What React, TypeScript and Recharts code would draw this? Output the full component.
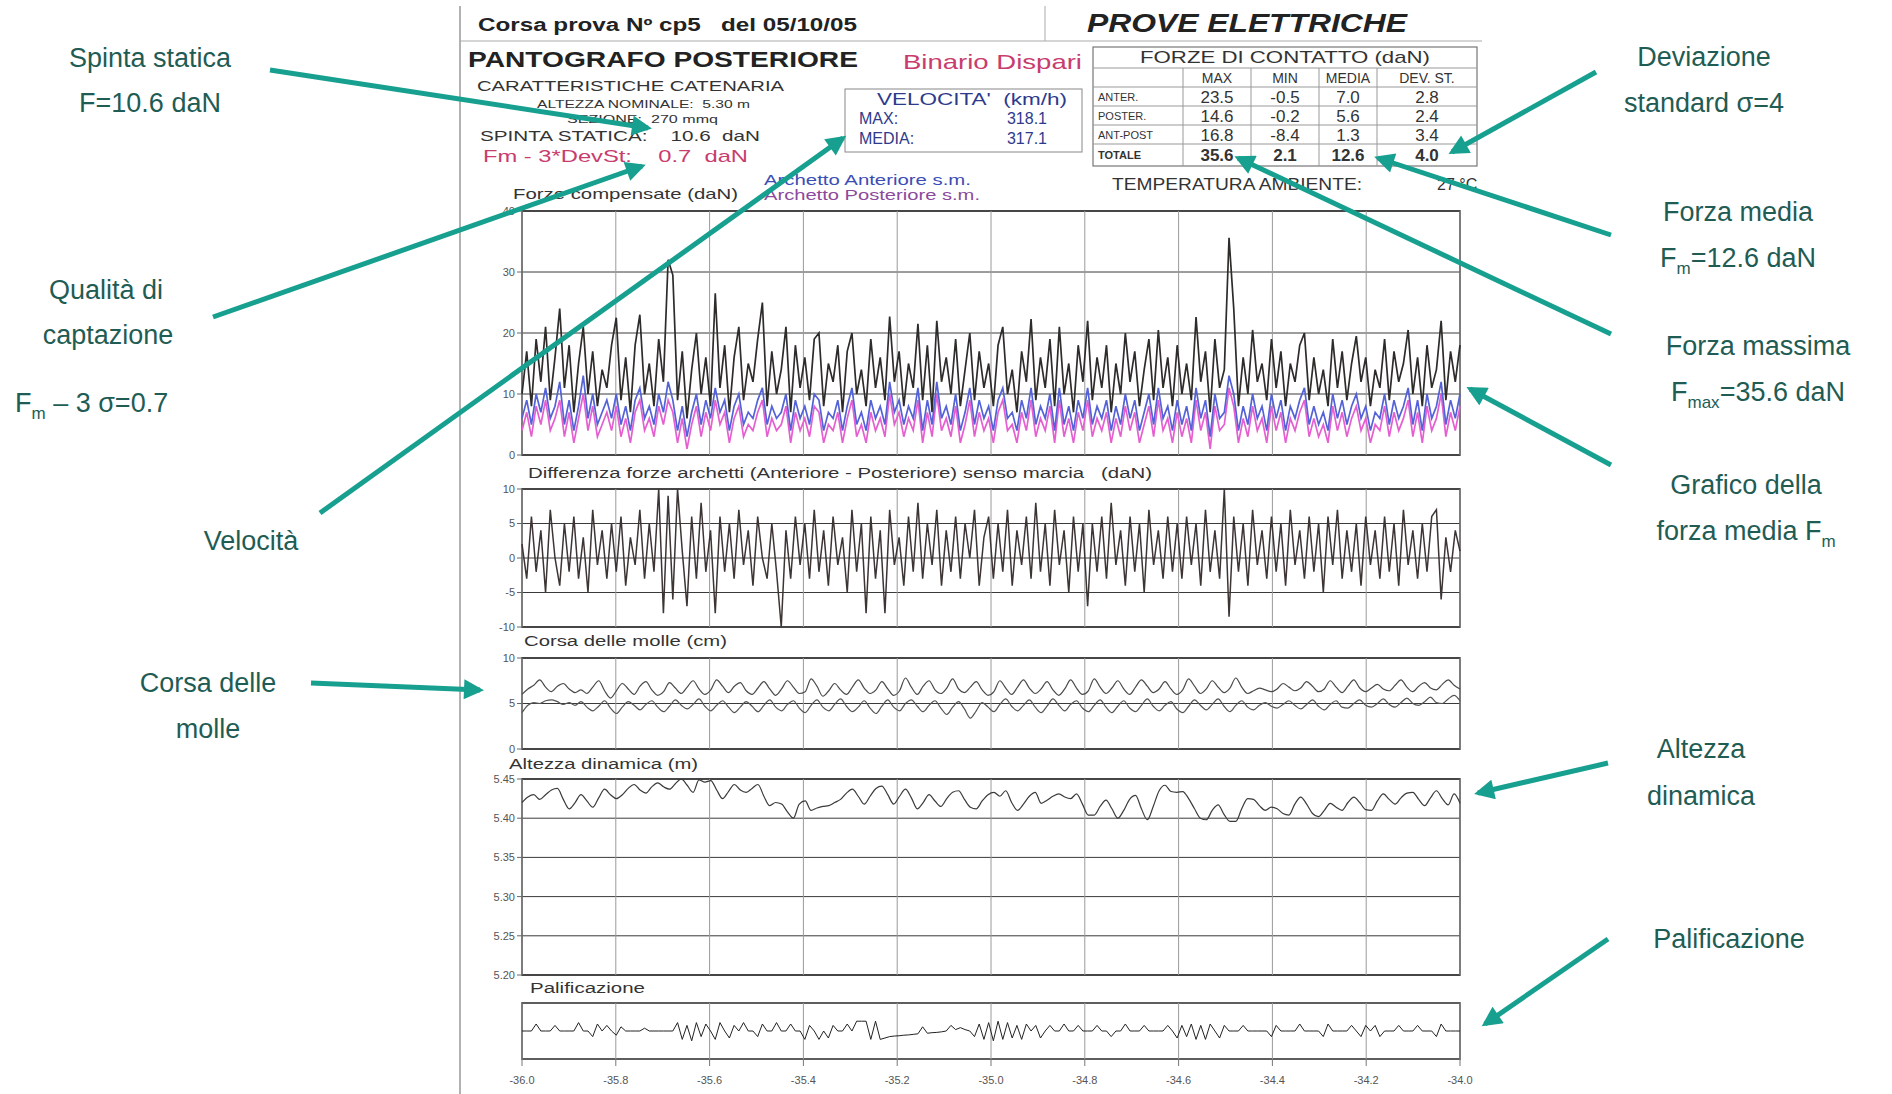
import React from "react";
import { LineChart, Line, XAxis, YAxis, CartesianGrid, ReferenceArea, ReferenceLine } from "recharts";

// progressive (km) range of the run
const X_START = -36;
const X_END = -34;
const xTicks = [-36, -35.8, -35.6, -35.4, -35.2, -35, -34.8, -34.6, -34.4, -34.2, -34];

// Forze compensate (daN) - totale, archetto anteriore, archetto posteriore
const totale = [
  10, 17, 8, 19, 12, 21, 9, 16, 24, 11, 18, 7, 15, 21, 10, 17, 8, 14, 11, 18,
  22.5, 9, 16, 7, 18, 23, 10, 15, 8, 19, 12, 32, 29.5, 9, 17, 6, 14, 20, 10, 16,
  8, 26.5, 11, 18, 7, 16, 21, 9, 15, 12, 19, 25, 8, 17, 10, 14, 21, 7, 18, 11,
  16, 9, 19, 20, 8, 15, 12, 18, 7, 17, 20, 10, 14, 8, 19, 11, 16, 9, 22.7, 12,
  17, 8, 15, 11, 21.5, 9, 18, 7, 22, 12, 16, 10, 19, 8, 14, 20, 9, 17, 11, 15,
  8, 18, 21, 10, 14, 7, 17, 12, 22.3, 9, 16, 11, 19, 8, 21, 10, 15, 7, 18, 12,
  22, 9, 16, 11, 18, 7, 15, 10, 20, 12, 17, 8, 14, 19, 9, 20.5, 11, 16, 8, 18,
  10, 15, 9, 22.6, 12, 17, 7, 19, 11, 14, 35.6, 24, 8, 16, 10, 20.5, 12, 15, 9, 19,
  11, 17, 8, 15, 12, 18, 20, 9, 16, 10, 14, 8, 19, 11, 17, 9, 15, 19.5, 12, 16,
  8, 14, 11, 19, 9, 17, 12, 15, 20.5, 10, 16, 8, 18, 11, 14, 22, 9, 17, 12, 18,
];
const anteriore = [
  6, 9, 5, 10, 7, 11, 6, 8, 12, 5, 9, 4, 8, 13, 6, 10, 5, 7, 9, 6,
  10, 5, 8, 4, 9, 11, 6, 8, 5, 10, 7, 12, 9, 4, 8, 3, 7, 10, 5, 9,
  6, 11, 7, 9, 4, 8, 10, 5, 7, 6, 9, 11, 5, 8, 6, 7, 10, 4, 9, 6,
  8, 5, 10, 9, 4, 7, 6, 9, 4, 8, 11, 5, 7, 4, 9, 6, 8, 5, 12, 7,
  9, 5, 8, 6, 11, 4, 9, 5, 12, 6, 8, 5, 10, 4, 7, 11, 5, 9, 6, 8,
  4, 9, 11, 6, 7, 4, 9, 6, 11, 5, 8, 6, 10, 4, 11, 5, 8, 4, 9, 6,
  11, 5, 8, 6, 9, 4, 8, 5, 10, 6, 9, 4, 7, 10, 5, 11, 6, 8, 4, 9,
  5, 8, 4, 11, 6, 9, 3, 10, 6, 7, 13, 10, 4, 8, 5, 10, 6, 8, 4, 10,
  6, 9, 4, 8, 6, 9, 11, 5, 8, 5, 7, 4, 10, 6, 9, 5, 8, 10, 6, 8,
  4, 7, 6, 10, 5, 9, 6, 8, 11, 5, 9, 4, 10, 6, 8, 12, 5, 9, 6, 10,
];
const posteriore = [
  4, 7, 3, 8, 5, 9, 4, 6, 9, 3, 7, 2, 6, 10, 4, 8, 3, 5, 7, 4,
  8, 3, 6, 2, 7, 9, 4, 6, 3, 8, 5, 9, 7, 2, 6, 1, 5, 8, 3, 7,
  4, 9, 5, 7, 2, 6, 8, 3, 5, 4, 7, 9, 3, 6, 4, 5, 8, 2, 7, 4,
  6, 3, 8, 7, 2, 5, 4, 7, 2, 6, 9, 3, 5, 2, 7, 4, 6, 3, 10, 5,
  7, 3, 6, 4, 9, 2, 7, 3, 10, 4, 6, 3, 8, 2, 5, 9, 3, 7, 4, 6,
  2, 7, 9, 4, 5, 2, 7, 4, 9, 3, 6, 4, 8, 2, 9, 3, 6, 2, 7, 4,
  9, 3, 6, 4, 7, 2, 6, 3, 8, 4, 7, 2, 5, 8, 3, 9, 4, 6, 2, 7,
  3, 6, 2, 9, 4, 7, 1, 8, 4, 5, 11, 8, 2, 6, 3, 8, 4, 6, 2, 8,
  4, 7, 2, 6, 4, 7, 9, 3, 6, 3, 5, 2, 8, 4, 7, 3, 6, 8, 4, 6,
  2, 5, 4, 8, 3, 7, 4, 6, 9, 3, 7, 2, 8, 4, 6, 10, 3, 7, 4, 8,
];

// Differenza forze archetti (Anteriore - Posteriore) (daN)
const differenza = [
  2, -3, 6, -2, 4, -5, 7, 0, -4, 5, -2, 6, -3, 3, -5, 7, -1, 4, -3, 5,
  -2, 6, -4, 3, -1, 7, -3, 5, -2, 10, -8, 9, -6, 10, 1, -7, 6, -3, 8, -2,
  4, -8, 6, -2, 5, -3, 7, -1, 4, -4, 6, 0, -3, 5, -2, -10, 4, -3, 6, -1,
  5, -3, 7, -2, 4, -4, 6, -1, 3, -5, 7, -2, 5, -8, 6, -3, 4, -8, 7, -1,
  3, -4, 6, -2, 8, -3, 5, -1, 7, -4, 4, -2, 6, -3, 5, 0, 7, -4, 3, 6,
  -3, 5, -2, 7, -4, 4, -1, 6, -3, 8, -2, 5, -4, 7, -1, 4, -5, 6, -2, 5,
  -7, 5, -2, 6, -3, 8, -1, 4, -4, 6, -2, 5, -5, 7, -1, 4, -3, 6, -2, 5,
  -3, 6, -1, 5, -4, 7, -2, 4, -3, 10, -8.5, 6, -2, 5, -4, 7, -1, 4, -3, 6,
  -2, 5, -4, 7, -1, 4, -3, 6, -2, 5, -5, 6, -1, 7, -3, 4, -2, 5, -4, 6,
  -1, 4, -3, 6, -2, 5, -4, 7, -1, 4, -3, 5, -2, 6, 7, -6, 3, -2, 4, 1,
];

// Corsa delle molle (cm)
const molleSup = [
  6.0, 6.6, 7.0, 7.6, 6.8, 6.3, 6.9, 7.2, 6.6, 6.2, 6.5, 6.1, 6.8, 7.5, 6.4, 5.6,
  6.4, 7.2, 6.6, 6.0, 6.9, 7.4, 6.5, 5.9, 6.3, 7.3, 6.7, 6.1, 6.8, 7.5, 6.6, 6.0,
  6.5, 7.6, 6.9, 6.2, 6.9, 7.3, 6.4, 6.0, 6.7, 7.4, 6.6, 5.9, 6.6, 7.5, 6.8, 6.1,
  6.3, 7.7, 6.9, 5.8, 6.4, 7.2, 6.5, 6.0, 6.8, 7.6, 6.7, 6.1, 6.5, 7.4, 6.6, 5.9,
  6.4, 7.8, 6.8, 6.0, 6.9, 7.5, 6.5, 6.1, 6.7, 7.7, 6.6, 6.2, 6.8, 7.4, 6.5, 5.9,
  6.3, 7.5, 6.7, 6.0, 6.8, 7.6, 6.7, 6.1, 6.6, 7.4, 6.5, 5.9, 6.6, 7.6, 6.7, 6.0,
  6.4, 7.7, 6.8, 6.1, 6.7, 7.5, 6.6, 6.0, 6.8, 7.6, 6.9, 6.2, 6.6, 7.4, 6.6, 6.0,
  6.5, 7.7, 6.9, 6.1, 6.6, 7.5, 6.8, 6.2, 6.7, 7.8, 6.8, 6.1, 6.4, 6.7, 6.5, 6.3,
  6.6, 7.2, 6.8, 6.4, 6.7, 7.4, 6.9, 6.3, 6.6, 7.5, 6.8, 6.2, 6.9, 7.6, 6.7, 6.3,
  6.7, 7.1, 6.6, 6.4, 7.0, 7.6, 6.8, 6.3, 6.9, 7.3, 6.7, 6.5, 7.1, 7.6, 7.0, 6.6,
];
const molleInf = [
  4.0, 4.8, 5.1, 5.0, 5.3, 5.4, 5.2, 4.9, 5.1, 4.8, 5.2, 4.6, 4.2, 4.7, 5.3, 4.5,
  3.9, 4.6, 5.2, 4.8, 4.3, 4.9, 5.3, 4.6, 4.1, 4.7, 5.4, 4.8, 4.4, 4.9, 5.5, 4.7,
  4.2, 4.8, 5.3, 4.6, 4.0, 4.6, 5.2, 4.7, 4.1, 4.8, 5.4, 4.6, 4.2, 4.9, 5.3, 4.5,
  4.0, 4.8, 5.4, 4.6, 4.2, 4.9, 5.5, 4.7, 4.1, 4.6, 5.3, 4.5, 3.9, 4.7, 5.4, 4.6,
  4.2, 5.0, 5.4, 4.7, 4.1, 4.8, 5.3, 4.5, 3.8, 4.6, 5.2, 4.4, 3.4, 4.2, 5.1, 4.6,
  4.1, 4.9, 5.5, 4.7, 4.2, 4.8, 5.4, 4.6, 4.0, 4.7, 5.5, 4.8, 4.2, 4.9, 5.3, 4.5,
  4.1, 4.8, 5.4, 4.6, 4.0, 4.7, 5.3, 4.5, 4.1, 4.8, 5.5, 4.7, 4.2, 4.8, 5.2, 4.4,
  4.0, 4.7, 5.4, 4.8, 4.3, 4.9, 5.5, 4.7, 4.1, 4.8, 5.3, 4.6, 4.3, 4.8, 5.1, 4.7,
  4.5, 4.9, 5.3, 4.8, 4.4, 4.9, 5.4, 4.7, 4.3, 4.9, 5.3, 4.6, 4.5, 5.0, 5.4, 4.8,
  4.6, 5.0, 5.5, 4.9, 4.6, 5.1, 5.6, 5.0, 4.8, 5.2, 5.7, 5.1, 5.0, 5.5, 5.9, 5.3,
];

// Altezza dinamica (m)
const altezza = [
  5.420, 5.427, 5.430, 5.424, 5.430, 5.436, 5.438, 5.424, 5.412, 5.420, 5.430, 5.422, 5.414, 5.426, 5.437, 5.430,
  5.425, 5.430, 5.438, 5.443, 5.436, 5.432, 5.440, 5.445, 5.440, 5.437, 5.444, 5.450, 5.442, 5.433, 5.449, 5.446,
  5.448, 5.436, 5.425, 5.434, 5.443, 5.436, 5.433, 5.438, 5.443, 5.428, 5.416, 5.420, 5.418, 5.408, 5.400, 5.418,
  5.422, 5.410, 5.413, 5.415, 5.416, 5.420, 5.424, 5.432, 5.437, 5.428, 5.418, 5.428, 5.438, 5.441, 5.430, 5.418,
  5.428, 5.437, 5.426, 5.412, 5.420, 5.430, 5.422, 5.415, 5.425, 5.433, 5.435, 5.424, 5.414, 5.412, 5.422, 5.430,
  5.433, 5.428, 5.435, 5.420, 5.410, 5.418, 5.428, 5.433, 5.419, 5.423, 5.428, 5.431, 5.427, 5.425, 5.431, 5.418,
  5.404, 5.404, 5.415, 5.423, 5.412, 5.400, 5.410, 5.424, 5.429, 5.412, 5.398, 5.415, 5.435, 5.442, 5.434, 5.433,
  5.434, 5.425, 5.412, 5.400, 5.398, 5.410, 5.417, 5.405, 5.396, 5.396, 5.412, 5.425, 5.424, 5.416, 5.410, 5.414,
  5.412, 5.406, 5.404, 5.418, 5.427, 5.418, 5.406, 5.402, 5.410, 5.419, 5.414, 5.410, 5.420, 5.427, 5.420, 5.411,
  5.410, 5.422, 5.431, 5.424, 5.418, 5.426, 5.432, 5.433, 5.424, 5.416, 5.426, 5.435, 5.425, 5.417, 5.431, 5.419,
];

// Palificazione (segnale dei pali)
const palificazione = [
  0, 0, 0, 0.25, 0, 0, 0, 0.2, 0, 0, 0, 0, 0.3, 0, 0, -0.2, 0.25, 0, 0.2, 0,
  -0.15, 0.15, 0, 0, 0, 0, 0.1, 0, 0, 0, 0, 0, 0, 0.3, -0.3, 0.2, -0.35, 0.3, -0.2, 0.25,
  0, -0.3, 0.3, 0, -0.25, 0.2, 0, 0.3, 0, 0, -0.2, 0.25, 0, 0, 0.3, 0, 0, 0.25, 0, 0,
  -0.3, 0.2, 0, -0.3, 0, -0.25, 0.2, 0, 0, 0.25, 0, 0.35, 0.35, 0.35, -0.3, 0.35, -0.3, -0.25, -0.2, -0.18,
  -0.17, -0.15, -0.14, -0.12, -0.1, 0.15, -0.08, -0.06, -0.05, -0.03, 0, 0.2, 0.05, 0.12, 0.05, 0, -0.2, 0.25, -0.3, 0.3,
  -0.35, 0.35, -0.3, 0.3, -0.25, 0.2, -0.3, 0.25, 0, 0.2, -0.25, 0, 0.2, 0, 0, 0.25, 0, 0, 0.2, 0,
  0, 0, 0.2, 0, 0, -0.2, 0, 0, 0.25, 0, 0, 0, 0.2, 0, 0, 0, 0, 0.2, 0, -0.25,
  0.2, -0.2, 0.25, -0.3, 0.2, -0.3, 0.25, 0, -0.25, 0.2, 0, 0, 0, 0.2, 0, 0, 0, 0, 0, -0.2,
  0.2, 0, 0, 0, 0, 0.25, 0, 0, 0, 0, -0.2, 0.25, 0, 0, 0, 0, 0.2, 0, -0.2, 0.2,
  0, 0.2, -0.2, 0, 0, 0, 0.2, 0, 0, 0, 0.2, 0, 0, 0, -0.2, 0.25, 0, 0, 0, 0,
];

// tabella forze di contatto
const tableCols = ["MAX", "MIN", "MEDIA", "DEV. ST."];
const tableRowLabels = ["ANTER.", "POSTER.", "ANT-POST", "TOTALE"];
const tableValues = [
  ["23.5", "-0.5", "7.0", "2.8"],
  ["14.6", "-0.2", "5.6", "2.4"],
  ["16.8", "-8.4", "1.3", "3.4"],
  ["35.6", "2.1", "12.6", "4.0"],
];

const xOf = (i: number, n: number) => X_START + (i * (X_END - X_START)) / (n - 1);

const forceData = totale.map((v, i) => ({
  x: xOf(i, totale.length),
  tot: v,
  ant: anteriore[i],
  post: posteriore[i],
}));
const diffData = differenza.map((v, i) => ({ x: xOf(i, differenza.length), d: v }));
const molleData = molleSup.map((v, i) => ({ x: xOf(i, molleSup.length), a: v, b: molleInf[i] }));
const altezzaData = altezza.map((v, i) => ({ x: xOf(i, altezza.length), h: v }));
const paliData = palificazione.map((v, i) => ({ x: xOf(i, palificazione.length), p: v }));

const FONT = "'Liberation Sans', Arial, sans-serif";
const PLOT_LEFT = 522;
const PLOT_W = 938;
const AXIS_W = 60;
const M = { top: 9, right: 24, bottom: 9, left: 0 };
const TEAL = "#17a08f";
const TEAL_TEXT = "#1f5c54";
const PINK = "#c83c6e";
const NAVY = "#2d3a8c";

interface SeriesDef {
  key: string;
  color: string;
  width?: number;
  smooth?: boolean;
}

interface PanelProps {
  top: number;
  height: number;
  data: any[];
  domain: [number, number];
  yTicks: number[];
  series: SeriesDef[];
  fmt?: (v: number) => string;
  showX?: boolean;
}

function Panel({ top, height, data, domain, yTicks, series, fmt, showX }: PanelProps) {
  const xH = showX ? 34 : 1;
  const h = M.top + height + M.bottom + xH;
  return (
    <div style={{ position: "absolute", left: PLOT_LEFT - AXIS_W, top: top - M.top }}>
      <LineChart width={AXIS_W + PLOT_W + M.right} height={h} data={data} margin={M}>
        {yTicks.length > 0 && <CartesianGrid horizontal vertical={false} stroke="#3a3a3a" strokeWidth={1} />}
        {xTicks.map((t) => (
          <ReferenceLine key={t} x={t} stroke="#9a9a9a" strokeWidth={1} />
        ))}
        <XAxis
          type="number"
          dataKey="x"
          domain={[X_START, X_END]}
          ticks={xTicks}
          interval={0}
          height={xH}
          tick={showX ? { fontSize: 11, fill: "#555", fontFamily: FONT } : false}
          tickFormatter={(v: number) => v.toFixed(1)}
          tickLine={showX ? { stroke: "#777" } : false}
          tickSize={7}
          tickMargin={10}
          axisLine={false}
        />
        <YAxis
          width={AXIS_W}
          domain={domain}
          ticks={yTicks}
          interval={0}
          allowDataOverflow
          axisLine={false}
          tickLine={yTicks.length > 0 ? { stroke: "#666" } : false}
          tickSize={5}
          tick={yTicks.length > 0 ? { fontSize: 11, fill: "#555", fontFamily: FONT } : false}
          tickFormatter={fmt}
        />
        {series.map((s) => (
          <Line
            key={s.key}
            type={s.smooth ? "monotone" : "linear"}
            dataKey={s.key}
            stroke={s.color}
            strokeWidth={s.width ?? 1}
            dot={false}
            isAnimationActive={false}
          />
        ))}
        <ReferenceArea
          x1={X_START}
          x2={X_END}
          y1={domain[0]}
          y2={domain[1]}
          fill="none"
          stroke="#2a2a2a"
          strokeWidth={1.5}
          ifOverflow="visible"
        />
      </LineChart>
    </div>
  );
}

function Txt({
  x, y, w, size, fill = "#222", weight = "normal", italic = false, anchor = "start", children,
}: {
  x: number; y: number; w?: number; size: number; fill?: string; weight?: string; italic?: boolean;
  anchor?: "start" | "middle" | "end"; children: React.ReactNode;
}) {
  return (
    <text
      x={x}
      y={y}
      fontSize={size}
      fill={fill}
      fontWeight={weight}
      fontStyle={italic ? "italic" : "normal"}
      textAnchor={anchor}
      style={{ whiteSpace: "pre" }}
      {...(w ? { textLength: w, lengthAdjust: "spacingAndGlyphs" } : {})}
    >
      {children}
    </text>
  );
}

function Arrow({ x1, y1, x2, y2 }: { x1: number; y1: number; x2: number; y2: number }) {
  return <line x1={x1} y1={y1} x2={x2} y2={y2} stroke={TEAL} strokeWidth={5} markerEnd="url(#ah)" />;
}

const colX = [1093, 1183, 1251, 1319, 1377, 1477];
const rowY = [47, 68, 87, 106, 125, 144, 166];

export default function App() {
  return (
    <div style={{ position: "absolute", left: 0, top: 0, width: 1892, height: 1094, background: "#fff", overflow: "hidden", fontFamily: FONT }}>
      <Panel
        top={211}
        height={244}
        data={forceData}
        domain={[0, 40]}
        yTicks={[0, 10, 20, 30, 40]}
        series={[
          { key: "tot", color: "#2e2c2a", width: 1.7 },
          { key: "post", color: "#e55fd0", width: 1.7 },
          { key: "ant", color: "#5462d8", width: 1.7 },
        ]}
      />
      <Panel
        top={489}
        height={138}
        data={diffData}
        domain={[-10, 10]}
        yTicks={[-10, -5, 0, 5, 10]}
        series={[{ key: "d", color: "#3d3434", width: 1.5 }]}
      />
      <Panel
        top={658}
        height={91}
        data={molleData}
        domain={[0, 10]}
        yTicks={[0, 5, 10]}
        series={[
          { key: "a", color: "#4a4a4a", width: 1.2, smooth: true },
          { key: "b", color: "#555", width: 1.2, smooth: true },
        ]}
      />
      <Panel
        top={779}
        height={196}
        data={altezzaData}
        domain={[5.2, 5.45]}
        yTicks={[5.2, 5.25, 5.3, 5.35, 5.4, 5.45]}
        fmt={(v: number) => v.toFixed(2)}
        series={[{ key: "h", color: "#3a3a3a", width: 1.2, smooth: true }]}
      />
      <Panel
        top={1003}
        height={56}
        data={paliData}
        domain={[-1, 1]}
        yTicks={[]}
        showX
        series={[{ key: "p", color: "#222", width: 1 }]}
      />

      <svg
        width={1892}
        height={1094}
        style={{ position: "absolute", left: 0, top: 0, pointerEvents: "none", fontFamily: FONT }}
      >
        <defs>
          <marker id="ah" viewBox="0 0 10 10" refX="8" refY="5" markerWidth="4.4" markerHeight="4" orient="auto">
            <path d="M0,0 L10,5 L0,10 z" fill={TEAL} />
          </marker>
        </defs>

        {/* cornice del foglio */}
        <line x1={460} y1={6} x2={460} y2={1094} stroke="#999" strokeWidth={1.5} />
        <line x1={460} y1={41} x2={1482} y2={41} stroke="#aaa" strokeWidth={1} />
        <line x1={1045} y1={6} x2={1045} y2={41} stroke="#aaa" strokeWidth={1} />

        {/* intestazione */}
        <Txt x={478} y={31} w={379} size={18} weight="bold">Corsa prova Nº cp5   del 05/10/05</Txt>
        <Txt x={1087} y={32} w={320} size={25} weight="bold" italic>PROVE ELETTRICHE</Txt>
        <Txt x={468} y={67} w={390} size={22} weight="bold">PANTOGRAFO POSTERIORE</Txt>
        <Txt x={903} y={69} w={179} size={21} fill={PINK}>Binario Dispari</Txt>
        <Txt x={477} y={91} w={307} size={15} fill="#333">CARATTERISTICHE CATENARIA</Txt>
        <Txt x={537} y={108} w={213} size={10} fill="#333">ALTEZZA NOMINALE:  5.30 m</Txt>
        <Txt x={567} y={123} w={151} size={10} fill="#333">SEZIONE:  270 mmq</Txt>
        <Txt x={480} y={141} w={280} size={15} fill="#333">SPINTA STATICA:    10.6  daN</Txt>
        <Txt x={483} y={162} w={265} size={17} fill={PINK}>Fm - 3*DevSt:    0.7  daN</Txt>

        <rect x={845} y={89} width={237} height={63} fill="none" stroke="#888" strokeWidth={1} />
        <Txt x={877} y={105} w={190} size={16} fill={NAVY}>VELOCITA'  (km/h)</Txt>
        <Txt x={859} y={124} size={16} fill={NAVY}>MAX:</Txt>
        <Txt x={1047} y={124} size={16} fill={NAVY} anchor="end">318.1</Txt>
        <Txt x={859} y={144} size={16} fill={NAVY}>MEDIA:</Txt>
        <Txt x={1047} y={144} size={16} fill={NAVY} anchor="end">317.1</Txt>

        <Txt x={764} y={185} w={207} size={15} fill="#3b4db5">Archetto Anteriore s.m.</Txt>
        <Txt x={764} y={200} w={216} size={15} fill="#8b4a9c">Archetto Posteriore s.m.</Txt>
        <Txt x={513} y={199} w={225} size={15} fill="#333">Forze compensate (daN)</Txt>

        {/* tabella forze di contatto */}
        <rect x={colX[0]} y={rowY[0]} width={colX[5] - colX[0]} height={rowY[6] - rowY[0]} fill="none" stroke="#777" strokeWidth={1.2} />
        {rowY.slice(1, 6).map((y) => (
          <line key={y} x1={colX[0]} y1={y} x2={colX[5]} y2={y} stroke="#999" strokeWidth={1} />
        ))}
        {colX.slice(1, 5).map((x) => (
          <line key={x} x1={x} y1={rowY[1]} x2={x} y2={rowY[6]} stroke="#999" strokeWidth={1} />
        ))}
        <Txt x={(colX[0] + colX[5]) / 2} y={63} w={290} size={17} fill="#333" anchor="middle">FORZE DI CONTATTO (daN)</Txt>
        {tableCols.map((c, j) => (
          <Txt key={c} x={(colX[j + 1] + colX[j + 2]) / 2} y={83} size={14} fill="#333" anchor="middle">{c}</Txt>
        ))}
        {tableRowLabels.map((r, k) => (
          <Txt key={r} x={colX[0] + 5} y={(rowY[k + 2] + rowY[k + 3]) / 2 + 4} size={11} fill="#333" weight={k === 3 ? "bold" : "normal"}>{r}</Txt>
        ))}
        {tableValues.map((row, k) =>
          row.map((v, j) => (
            <Txt
              key={`${k}-${j}`}
              x={(colX[j + 1] + colX[j + 2]) / 2}
              y={(rowY[k + 2] + rowY[k + 3]) / 2 + 6}
              size={17}
              fill="#333"
              weight={k === 3 ? "bold" : "normal"}
              anchor="middle"
            >
              {v}
            </Txt>
          ))
        )}
        <Txt x={1112} y={190} w={250} size={16} fill="#333">TEMPERATURA AMBIENTE:</Txt>
        <Txt x={1437} y={190} size={16} fill="#333">27 °C</Txt>

        {/* titoli dei pannelli */}
        <Txt x={528} y={478} w={624} size={14} fill="#333">Differenza forze archetti (Anteriore - Posteriore) senso marcia   (daN)</Txt>
        <Txt x={524} y={646} w={203} size={14} fill="#333">Corsa delle molle (cm)</Txt>
        <Txt x={509} y={769} w={189} size={14} fill="#333">Altezza dinamica (m)</Txt>
        <Txt x={530} y={993} w={115} size={14} fill="#333">Palificazione</Txt>

        {/* annotazioni */}
        <g fill={TEAL_TEXT} fontSize={27}>
          <text x={150} y={67} textAnchor="middle">Spinta statica</text>
          <text x={150} y={112} textAnchor="middle">F=10.6 daN</text>
          <text x={106} y={299} textAnchor="middle">Qualità di</text>
          <text x={108} y={344} textAnchor="middle">captazione</text>
          <text x={15} y={412}>
            F<tspan dy={7} fontSize={17}>m</tspan><tspan dy={-7}> – 3 σ=0.7</tspan>
          </text>
          <text x={251} y={550} textAnchor="middle">Velocità</text>
          <text x={208} y={692} textAnchor="middle">Corsa delle</text>
          <text x={208} y={738} textAnchor="middle">molle</text>

          <text x={1704} y={66} textAnchor="middle">Deviazione</text>
          <text x={1704} y={112} textAnchor="middle">standard σ=4</text>
          <text x={1738} y={221} textAnchor="middle">Forza media</text>
          <text x={1738} y={267} textAnchor="middle">
            F<tspan dy={7} fontSize={17}>m</tspan><tspan dy={-7}>=12.6 daN</tspan>
          </text>
          <text x={1758} y={355} textAnchor="middle">Forza massima</text>
          <text x={1758} y={401} textAnchor="middle">
            F<tspan dy={7} fontSize={17}>max</tspan><tspan dy={-7}>=35.6 daN</tspan>
          </text>
          <text x={1746} y={494} textAnchor="middle">Grafico della</text>
          <text x={1746} y={540} textAnchor="middle">
            forza media F<tspan dy={7} fontSize={17}>m</tspan>
          </text>
          <text x={1701} y={758} textAnchor="middle">Altezza</text>
          <text x={1701} y={805} textAnchor="middle">dinamica</text>
          <text x={1729} y={948} textAnchor="middle">Palificazione</text>
        </g>

        <Arrow x1={270} y1={70} x2={648} y2={128} />
        <Arrow x1={213} y1={317} x2={642} y2={166} />
        <Arrow x1={320} y1={513} x2={843} y2={138} />
        <Arrow x1={311} y1={683} x2={480} y2={690} />
        <Arrow x1={1596} y1={72} x2={1452} y2={152} />
        <Arrow x1={1611} y1={235} x2={1378} y2={158} />
        <Arrow x1={1611} y1={334} x2={1238} y2={158} />
        <Arrow x1={1611} y1={465} x2={1470} y2={389} />
        <Arrow x1={1608} y1={763} x2={1478} y2={793} />
        <Arrow x1={1608} y1={939} x2={1485} y2={1024} />
      </svg>
    </div>
  );
}
